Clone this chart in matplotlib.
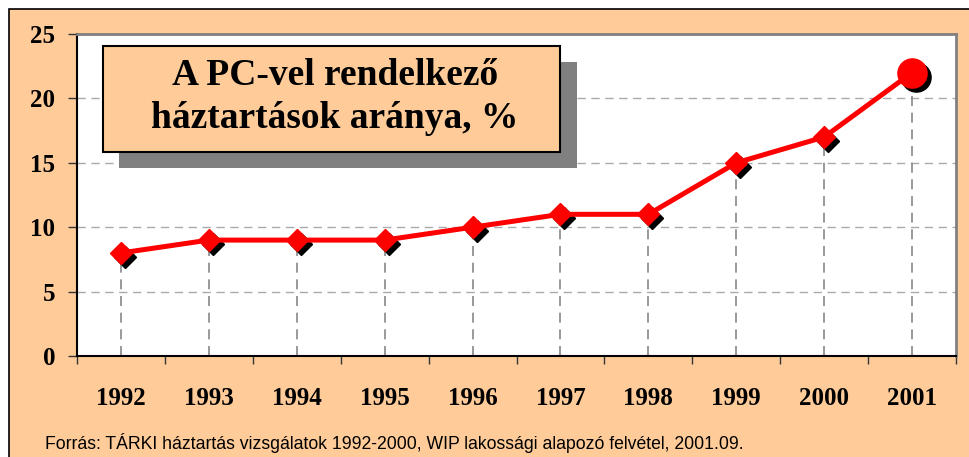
import matplotlib
matplotlib.use("Agg")
import matplotlib.pyplot as plt
import matplotlib.transforms as mtransforms
from matplotlib.patches import Rectangle

years = ['1992', '1993', '1994', '1995', '1996', '1997', '1998', '1999', '2000', '2001']
pc_share = [8, 9, 9, 9, 10, 11, 11, 15, 17, 22]
yticks = [0, 5, 10, 15, 20, 25]
title_lines = ["A PC-vel rendelkező", "háztartások aránya, %"]
source = "Forrás: TÁRKI háztartás vizsgálatok 1992-2000, WIP lakossági alapozó felvétel, 2001.09."

W, H = 970, 457
orange = '#FFCC99'
serif = 'Liberation Serif'

fig = plt.figure(figsize=(W / 100, H / 100), dpi=100)
fig.patch.set_facecolor('white')

# orange frame behind everything
fig.patches.append(Rectangle((9 / W, -0.2), 1.2, 1 - 9 / H + 0.2, transform=fig.transFigure,
                             facecolor=orange, edgecolor='black', lw=1.2, zorder=-10))

ax = fig.add_axes([77 / W, (H - 356) / H, (956 - 77) / W, (356 - 34) / H])
ax.set_facecolor('white')
x = list(range(len(years)))

ax.set_xlim(-0.5, len(years) - 0.5)
ax.set_ylim(0, 25)

# gridlines
for v in yticks[1:-1]:
    ax.axhline(v, color='#AAAAAA', lw=1, linestyle=(0, (6, 4)), zorder=1)
# drop lines
ax.vlines(x, 0, pc_share, colors='#888888', lw=1.2, linestyles=(0, (6, 4)), zorder=1)

shadow = mtransforms.offset_copy(ax.transData, fig=fig, x=4, y=-4, units='dots')
ax.plot(x[:-1], pc_share[:-1], 'D', color='black', ms=11, transform=shadow, zorder=2, clip_on=False)
ax.plot(x[-1:], pc_share[-1:], 'o', color='black', ms=21, transform=shadow, zorder=2, clip_on=False)
ax.plot(x, pc_share, color='red', lw=3.6, zorder=3, solid_joinstyle='round')
ax.plot(x[:-1], pc_share[:-1], 'D', color='red', ms=11, zorder=4, clip_on=False)
ax.plot(x[-1:], pc_share[-1:], 'o', color='red', ms=21, zorder=4, clip_on=False)

# ticks
ax.set_yticks(yticks)
ax.set_yticklabels([str(t) for t in yticks])
ax.set_xticks([i - 0.5 for i in range(len(years) + 1)])
ax.set_xticklabels([])
ax.set_xticks(x, minor=True)
ax.set_xticklabels(years, minor=True)
ax.tick_params(axis='x', which='major', direction='out', length=6, width=1, color='#333333')
ax.tick_params(axis='x', which='minor', length=0, pad=22)
ax.tick_params(axis='y', direction='out', length=6.5, width=1, color='#333333', pad=9)
for lab in ax.get_yticklabels() + ax.get_xticklabels(minor=True):
    lab.set_fontfamily(serif)
    lab.set_fontweight('bold')
    lab.set_fontsize(18)

for s in ['left', 'bottom']:
    ax.spines[s].set_color('black')
    ax.spines[s].set_linewidth(1.5)
for s in ['top', 'right']:
    ax.spines[s].set_color('#808080')
    ax.spines[s].set_linewidth(2)

# title box with shadow
fig.patches.append(Rectangle((119 / W, 1 - 168 / H), (577 - 119) / W, (168 - 62) / H,
                             transform=fig.transFigure, facecolor='#808080', edgecolor='none', zorder=5))
fig.patches.append(Rectangle((103 / W, 1 - 152 / H), (560 - 103) / W, (152 - 46) / H,
                             transform=fig.transFigure, facecolor=orange, edgecolor='black', lw=1.5, zorder=6))
fig.text(335 / W, 1 - 97 / H, "\n".join(title_lines), ha='center', va='center',
         fontsize=27, fontweight='bold', family=serif, linespacing=1.3, zorder=7)

fig.text(45 / W, 1 - 449 / H, source, ha='left', va='baseline', fontsize=12.7,
         family='Liberation Sans', color='black')

fig.savefig('out.png', dpi=100)
